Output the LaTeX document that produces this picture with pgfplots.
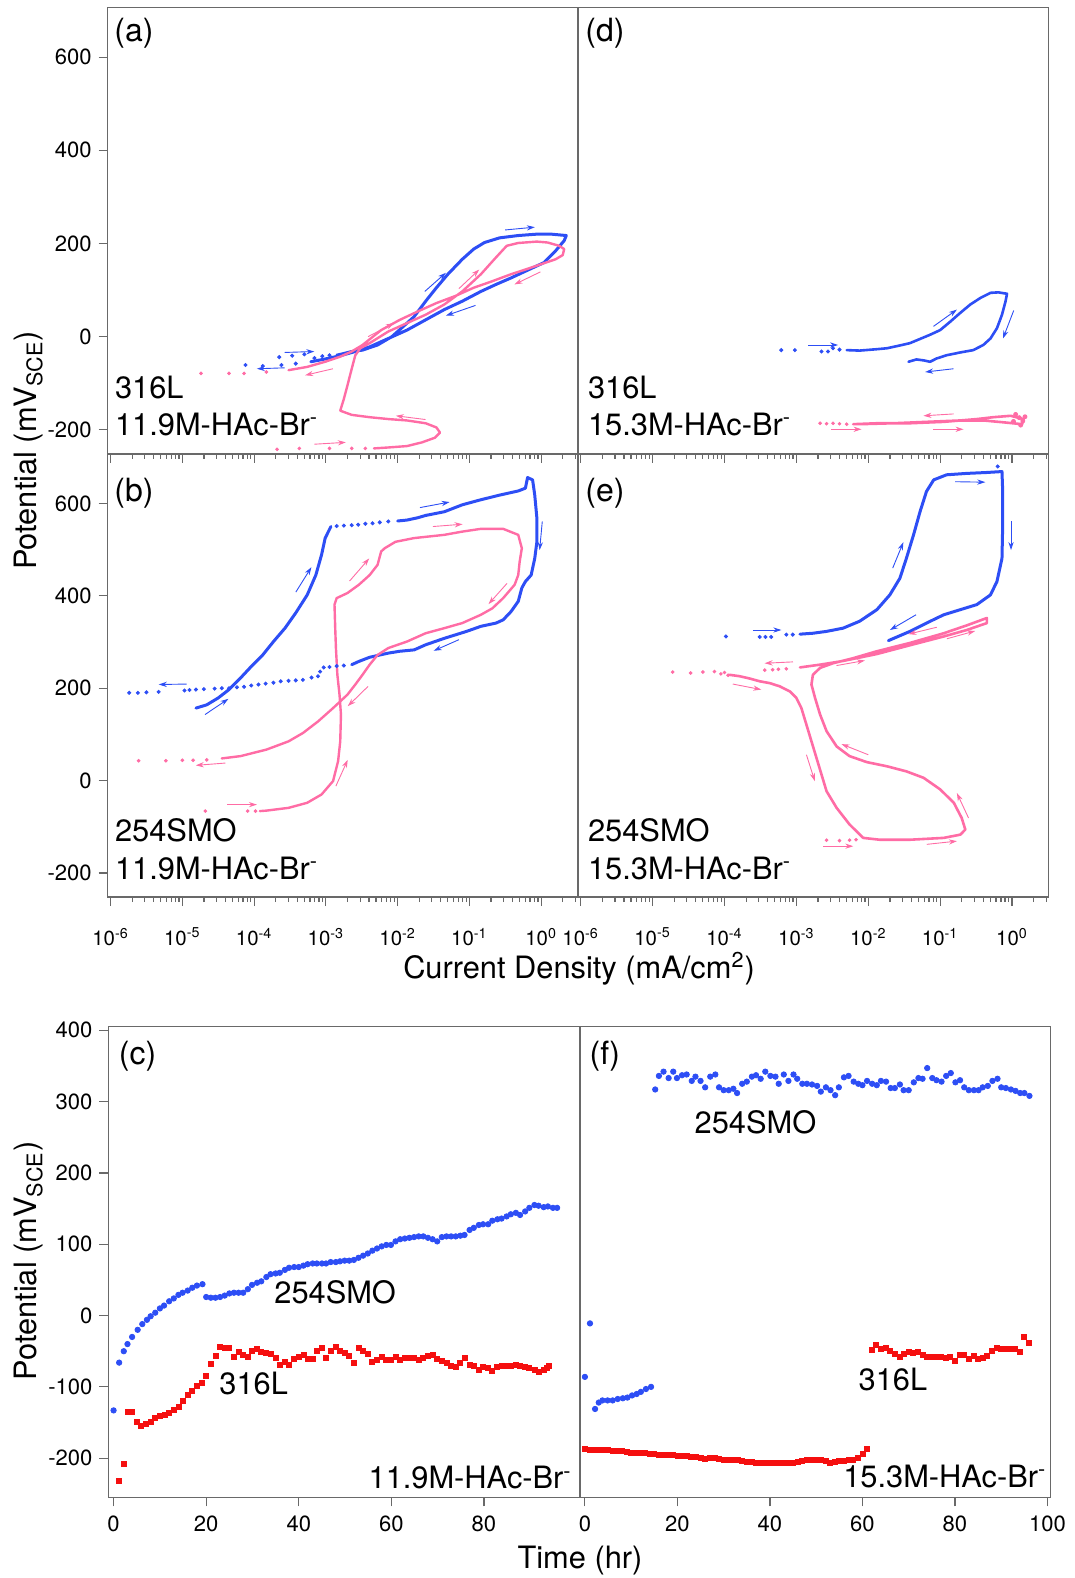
\documentclass[border=0pt]{standalone}
\usepackage{fontspec}
\setmainfont{TeX Gyre Heros}
\usepackage{pgfplots}
\pgfplotsset{compat=1.18}
\usetikzlibrary{arrows.meta}

\definecolor{scanblue}{RGB}{45,78,245}
\definecolor{scanpink}{RGB}{255,108,165}
\definecolor{ocpred}{RGB}{245,15,15}
\definecolor{framegray}{RGB}{105,105,105}

\tikzset{flow/.style={-{Stealth[length=4pt,width=2.6pt]}, line width=0.45pt}}

\pgfplotsset{
  panel/.style={
    scale only axis, anchor=north west,
    axis line style={draw=framegray, line width=0.7pt},
    every tick/.style={draw=framegray, line width=0.6pt},
    tick align=outside,
    major tick length=4.5pt, minor tick length=2.5pt,
    xtick pos=left, ytick pos=left,
    tick label style={font=\fontsize{11}{13}\selectfont, text=black},
  },
  scanax/.style={
    panel,
    xmin=-6.04, xmax=0.51, ymin=-252, ymax=707,
    xtick={-6,-5,-4,-3,-2,-1,0},
    xticklabels={10\textsuperscript{-6},10\textsuperscript{-5},10\textsuperscript{-4},10\textsuperscript{-3},10\textsuperscript{-2},10\textsuperscript{-1},10\textsuperscript{0}},
    minor xtick={-5.699,-5.523,-5.398,-5.301,-5.222,-5.155,-5.097,-5.046,
      -4.699,-4.523,-4.398,-4.301,-4.222,-4.155,-4.097,-4.046,
      -3.699,-3.523,-3.398,-3.301,-3.222,-3.155,-3.097,-3.046,
      -2.699,-2.523,-2.398,-2.301,-2.222,-2.155,-2.097,-2.046,
      -1.699,-1.523,-1.398,-1.301,-1.222,-1.155,-1.097,-1.046,
      -0.699,-0.523,-0.398,-0.301,-0.222,-0.155,-0.097,-0.046,
      0.301,0.477},
    xticklabel style={yshift=-7.5pt, font=\fontsize{10.2}{12}\selectfont},
    ytick={-200,0,200,400,600},
    yticklabels={-200,0,200,400,600},
  },
  timeax/.style={
    panel,
    xmin=-1.1, xmax=100.7, ymin=-255, ymax=405,
    ytick={-200,-100,0,100,200,300,400},
    yticklabels={-200,-100,0,100,200,300,400},
    xticklabel style={yshift=-1pt},
  },
  curve/.style={line width=1.5pt, line join=round, line cap=round},
  dots/.style={only marks, mark=*, mark size=0.8pt},
}

\newcommand{\panelfont}{\fontsize{16}{19}\selectfont}
\newcommand{\notefont}{\fontsize{15.4}{18}\selectfont}

\begin{document}
\begin{tikzpicture}
\path[use as bounding box] (0pt,0pt) rectangle (537.5pt,-789pt);

% ---------------- (a) 316L, 11.9M-HAc-Br- ----------------
\begin{axis}[scanax, at={(53.85pt,-3.65pt)}, width=235.05pt, height=223.35pt, xticklabels={}]
\addplot[scanblue, curve] coordinates {
(-2.85,-40) (-2.64,-32) (-2.49,-29) (-2.28,-18) (-2.08,0) (-1.92,22) (-1.77,43) (-1.61,76)
(-1.46,105) (-1.30,134) (-1.10,166) (-0.94,188) (-0.79,202) (-0.58,212) (-0.32,217) (-0.06,220)
(0.14,220) (0.35,217) (0.32,206) (0.20,184) (0.04,159) (-0.17,144) (-0.42,126) (-0.63,112)
(-0.84,97) (-1.10,76) (-1.35,58) (-1.61,36) (-1.87,14) (-2.13,-4) (-2.39,-22) (-2.59,-32)
(-2.80,-41) (-3.01,-48) (-3.21,-54)};
\addplot[scanblue, dots] coordinates {
(-3.65,-44) (-3.47,-41) (-3.30,-38) (-3.16,-46) (-3.05,-42) (-2.95,-40)
(-3.42,-58) (-3.62,-61) (-3.88,-63) (-4.12,-61)};
\addplot[scanpink, curve, line width=1.2pt] coordinates {
(-2.33,-240) (-2.13,-238) (-1.87,-235) (-1.66,-227) (-1.48,-217) (-1.41,-206) (-1.46,-195)
(-1.61,-186) (-1.87,-180) (-2.13,-177) (-2.39,-173) (-2.64,-168) (-2.80,-159) (-2.75,-134)
(-2.70,-105) (-2.64,-69) (-2.59,-40) (-2.52,-25) (-2.39,-14) (-2.13,11) (-1.87,29) (-1.61,47)
(-1.35,69) (-1.10,97) (-0.84,134) (-0.63,170) (-0.48,195) (-0.32,201) (-0.06,204) (0.09,202)
(0.25,195) (0.32,188) (0.30,175) (0.20,166) (-0.01,155) (-0.22,144) (-0.42,134) (-0.68,119)
(-0.94,105) (-1.20,87) (-1.46,72) (-1.72,54) (-1.97,36) (-2.23,14) (-2.49,-18) (-2.64,-32)
(-2.80,-43) (-3.01,-54) (-3.26,-65) (-3.52,-72)};
\addplot[scanpink, dots, mark size=0.7pt] coordinates {
(-3.68,-242) (-3.37,-240) (-2.95,-240) (-2.64,-240) (-2.45,-240)
(-3.83,-76) (-4.14,-79) (-4.35,-79) (-4.74,-79)};
\draw[flow, scanblue] (axis cs:-0.502,229) -- (axis cs:-0.089,235);
\draw[flow, scanblue] (axis cs:-1.622,97) -- (axis cs:-1.328,137);
\draw[flow, scanblue] (axis cs:-0.915,67) -- (axis cs:-1.328,45);
\draw[flow, scanblue] (axis cs:-3.574,-34) -- (axis cs:-3.161,-32);
\draw[flow, scanblue] (axis cs:-3.574,-67) -- (axis cs:-3.961,-69);
\draw[flow, scanpink] (axis cs:-0.011,139) -- (axis cs:-0.373,112);
\draw[flow, scanpink] (axis cs:-1.147,103) -- (axis cs:-0.863,144);
\draw[flow, scanpink] (axis cs:-2.412,0) -- (axis cs:-2.05,29);
\draw[flow, scanpink] (axis cs:-2.902,-69) -- (axis cs:-3.29,-83);
\draw[flow, scanpink] (axis cs:-1.612,-178) -- (axis cs:-2.025,-170);
\draw[flow, scanpink] (axis cs:-3.161,-231) -- (axis cs:-2.722,-227);
\end{axis}

% ---------------- (b) 254SMO, 11.9M-HAc-Br- ----------------
\begin{axis}[scanax, at={(53.85pt,-227pt)}, width=235.05pt, height=221.5pt]
\addplot[scanblue, curve] coordinates {
(-4.81,157) (-4.66,164) (-4.50,179) (-4.35,197) (-4.19,222) (-4.04,247) (-3.88,272) (-3.73,301)
(-3.57,330) (-3.42,363) (-3.26,402) (-3.14,445) (-3.06,489) (-3.01,525) (-2.93,550)};
\addplot[scanblue, dots] coordinates {
(-2.85,551) (-2.75,552) (-2.64,553) (-2.55,554) (-2.45,556) (-2.35,557) (-2.25,559) (-2.13,561)};
\addplot[scanblue, curve] coordinates {
(-2.0,562) (-1.87,564) (-1.72,569) (-1.61,574) (-1.35,582) (-1.10,597) (-0.84,608) (-0.58,618)
(-0.32,627) (-0.22,633) (-0.19,656) (-0.12,651) (-0.09,618) (-0.06,568) (-0.06,517) (-0.09,481)
(-0.14,445) (-0.22,431) (-0.27,417) (-0.32,388) (-0.42,366) (-0.53,348) (-0.63,341) (-0.84,334)
(-1.04,323) (-1.35,308) (-1.61,294) (-1.77,283) (-1.97,280) (-2.13,276) (-2.39,267) (-2.54,258)
(-2.64,251)};
\addplot[scanblue, dots] coordinates {
(-2.75,249) (-2.85,248) (-2.95,246) (-3.03,245) (-3.08,236) (-3.11,226) (-3.20,223) (-3.32,218)
(-3.42,217) (-3.52,216) (-3.63,215) (-3.73,212) (-3.84,210) (-3.94,208) (-4.04,206) (-4.14,203)
(-4.24,202) (-4.35,200) (-4.45,200) (-4.55,199) (-4.70,198) (-4.81,197) (-4.90,196) (-4.97,195)
(-5.33,192) (-5.50,191) (-5.62,190) (-5.74,190)};
\addplot[scanpink, curve, line width=1.2pt] coordinates {
(-3.92,-66) (-3.83,-65) (-3.52,-59) (-3.26,-48) (-3.06,-30) (-2.90,-1) (-2.83,42) (-2.80,85)
(-2.79,143) (-2.81,186) (-2.84,229) (-2.86,287) (-2.87,330) (-2.88,381) (-2.85,395) (-2.70,406)
(-2.54,424) (-2.39,445) (-2.28,467) (-2.23,496) (-2.18,503) (-2.03,517) (-1.77,525) (-1.35,532)
(-1.10,539) (-0.84,545) (-0.53,545) (-0.32,532) (-0.27,503) (-0.30,474) (-0.32,445) (-0.37,424)
(-0.53,395) (-0.68,373) (-0.84,359) (-1.10,341) (-1.35,330) (-1.61,319) (-1.87,301) (-2.13,287)
(-2.28,272) (-2.39,251) (-2.49,229) (-2.59,208) (-2.70,186) (-2.90,157) (-3.11,128) (-3.32,103)
(-3.52,85) (-3.83,67) (-4.19,53) (-4.45,48)};
\addplot[scanpink, dots, mark size=0.7pt] coordinates {
(-4.68,-66) (-4.09,-66) (-3.98,-66)
(-4.66,45) (-4.85,44) (-5.00,44) (-5.23,43) (-5.61,43)};
\draw[flow, scanblue] (axis cs:-1.689,591) -- (axis cs:-1.276,603);
\draw[flow, scanblue] (axis cs:0.015,561) -- (axis cs:-0.022,499);
\draw[flow, scanblue] (axis cs:-1.147,305) -- (axis cs:-1.498,281);
\draw[flow, scanblue] (axis cs:-4.942,209) -- (axis cs:-5.329,208);
\draw[flow, scanblue] (axis cs:-4.684,143) -- (axis cs:-4.358,177);
\draw[flow, scanblue] (axis cs:-3.419,408) -- (axis cs:-3.202,462);
\draw[flow, scanpink] (axis cs:-1.509,550) -- (axis cs:-1.095,555);
\draw[flow, scanpink] (axis cs:-2.67,432) -- (axis cs:-2.396,481);
\draw[flow, scanpink] (axis cs:-0.476,427) -- (axis cs:-0.734,382);
\draw[flow, scanpink] (axis cs:-2.412,204) -- (axis cs:-2.696,161);
\draw[flow, scanpink] (axis cs:-4.4,38) -- (axis cs:-4.813,33);
\draw[flow, scanpink] (axis cs:-4.374,-52) -- (axis cs:-3.961,-52);
\draw[flow, scanpink] (axis cs:-2.861,-12) -- (axis cs:-2.696,45);
\end{axis}

% ---------------- (d) 316L, 15.3M-HAc-Br- ----------------
\begin{axis}[scanax, at={(288.9pt,-3.65pt)}, width=235.45pt, height=223.35pt, xticklabels={}, ytick=\empty]
\addplot[scanblue, dots] coordinates {
(-3.21,-29) (-3.02,-29) (-2.65,-32) (-2.56,-32) (-2.49,-25) (-2.40,-28)};
\addplot[scanblue, curve, line width=1.3pt] coordinates {
(-2.30,-29) (-2.12,-30) (-1.88,-27) (-1.74,-25) (-1.56,-19) (-1.42,-14) (-1.28,-5) (-1.14,4)
(-1.00,14) (-0.86,32) (-0.72,51) (-0.58,69) (-0.44,83) (-0.30,94) (-0.19,95) (-0.07,92)
(-0.09,76) (-0.14,47) (-0.21,18) (-0.30,-4) (-0.40,-18) (-0.54,-29) (-0.72,-34) (-0.91,-40)
(-1.05,-47) (-1.14,-54) (-1.23,-51) (-1.33,-49) (-1.44,-54)};
\addplot[scanpink, dots, mark size=0.7pt] coordinates {
(-2.67,-186) (-2.58,-187) (-2.49,-186) (-2.40,-187) (-2.30,-188)};
\addplot[scanpink, curve, line width=1.3pt] coordinates {
(-2.21,-188) (-1.88,-186) (-1.42,-186) (-0.95,-183) (-0.49,-177) (-0.26,-173) (-0.02,-170)
(0.16,-177) (0.14,-188) (-0.12,-184) (-0.40,-180) (-0.72,-180) (-1.19,-183) (-1.65,-186)
(-2.12,-188)};
\addplot[scanpink, dots, mark size=1pt] coordinates {
(0.05,-167) (0.10,-174) (0.18,-172) (0.12,-190) (0.02,-182) (0.15,-181)};
\draw[flow, scanblue] (axis cs:-2.837,-18) -- (axis cs:-2.419,-18);
\draw[flow, scanblue] (axis cs:-1.093,22) -- (axis cs:-0.767,58);
\draw[flow, scanblue] (axis cs:0.023,56) -- (axis cs:-0.126,-4);
\draw[flow, scanblue] (axis cs:-0.814,-69) -- (axis cs:-1.209,-76);
\draw[flow, scanpink] (axis cs:-0.814,-166) -- (axis cs:-1.233,-170);
\draw[flow, scanpink] (axis cs:-2.512,-199) -- (axis cs:-2.093,-199);
\draw[flow, scanpink] (axis cs:-1.093,-199) -- (axis cs:-0.674,-199);
\end{axis}

% ---------------- (e) 254SMO, 15.3M-HAc-Br- ----------------
\begin{axis}[scanax, at={(288.9pt,-227pt)}, width=235.45pt, height=221.5pt, ytick=\empty]
\addplot[scanblue, dots] coordinates {
(-3.98,312) (-3.51,311) (-3.43,311) (-3.35,311) (-3.14,316) (-3.05,316) (-0.20,680)};
\addplot[scanblue, curve] coordinates {
(-2.95,317) (-2.77,319) (-2.58,323) (-2.35,330) (-2.12,345) (-1.88,370) (-1.70,402) (-1.56,438)
(-1.47,481) (-1.37,532) (-1.28,582) (-1.19,626) (-1.09,651) (-0.91,662) (-0.63,665) (-0.35,667)
(-0.14,669) (-0.13,626) (-0.13,554) (-0.14,481) (-0.21,431) (-0.30,402) (-0.49,381) (-0.72,370)
(-0.95,359) (-1.19,341) (-1.42,323) (-1.72,303)};
\addplot[scanpink, dots, mark size=0.7pt] coordinates {
(-4.72,235) (-4.47,233) (-4.30,235) (-4.14,236) (-4.05,231) (-4.00,234) (-3.95,228)
(-3.14,242) (-3.33,240) (-3.44,239) (-3.25,241)
(-2.58,-129) (-2.40,-130) (-2.26,-129) (-2.17,-128)};
\addplot[scanpink, curve, line width=1.3pt] coordinates {
(-3.93,229) (-3.79,226) (-3.65,221) (-3.51,215) (-3.37,211) (-3.23,204) (-3.09,193) (-3.00,179)
(-2.93,157) (-2.86,121) (-2.79,85) (-2.72,49) (-2.65,13) (-2.58,-23) (-2.44,-59) (-2.26,-95)
(-2.07,-124) (-1.84,-128) (-1.42,-128) (-0.95,-124) (-0.72,-117) (-0.65,-106) (-0.70,-81)
(-0.81,-48) (-1.00,-19) (-1.23,6) (-1.47,20) (-1.74,31) (-2.02,40) (-2.26,53) (-2.44,74)
(-2.58,107) (-2.67,143) (-2.74,179) (-2.79,208) (-2.77,229) (-2.67,244) (-2.49,254) (-2.21,265)
(-1.88,280) (-1.42,298) (-0.95,319) (-0.63,336) (-0.35,352) (-0.35,341) (-0.63,326) (-0.95,312)
(-1.42,293) (-1.88,274) (-2.35,259) (-2.67,251) (-2.95,245)};
\draw[flow, scanblue] (axis cs:-3.605,326) -- (axis cs:-3.209,326);
\draw[flow, scanblue] (axis cs:-0.791,647) -- (axis cs:-0.372,646);
\draw[flow, scanblue] (axis cs:-0.014,561) -- (axis cs:-0.014,499);
\draw[flow, scanblue] (axis cs:-1.335,359) -- (axis cs:-1.698,326);
\draw[flow, scanblue] (axis cs:-1.66,460) -- (axis cs:-1.512,516);
\draw[flow, scanpink] (axis cs:-3.884,209) -- (axis cs:-3.488,197);
\draw[flow, scanpink] (axis cs:-2.86,56) -- (axis cs:-2.744,-1);
\draw[flow, scanpink] (axis cs:-2.628,-142) -- (axis cs:-2.209,-142);
\draw[flow, scanpink] (axis cs:-1.186,-138) -- (axis cs:-0.767,-131);
\draw[flow, scanpink] (axis cs:-0.605,-81) -- (axis cs:-0.767,-27);
\draw[flow, scanpink] (axis cs:-2.0,56) -- (axis cs:-2.372,79);
\draw[flow, scanpink] (axis cs:-2.442,249) -- (axis cs:-2.047,260);
\draw[flow, scanpink] (axis cs:-0.907,307) -- (axis cs:-0.512,324);
\draw[flow, scanpink] (axis cs:-1.047,332) -- (axis cs:-1.442,317);
\draw[flow, scanpink] (axis cs:-3.047,257) -- (axis cs:-3.442,254);
\end{axis}

% ---------------- (c) open-circuit potential, 11.9M-HAc-Br- ----------------
\begin{axis}[timeax, at={(54.25pt,-513.35pt)}, width=235.65pt, height=235.35pt,
  xtick={0,20,40,60,80}, xticklabels={0,20,40,60,80}]
\addplot[scanblue, only marks, mark=*, mark size=1.35pt] coordinates {
(0,-133) (1.2,-66) (2.2,-50) (3.0,-40) (4.0,-30) (5.2,-20) (6.2,-12) (7.2,-6) (8.0,-1) (9.0,4)
(10.0,10) (10.9,14) (12.0,20) (13.0,24) (14.0,29) (14.9,32) (16.0,35) (17.0,39) (18.0,42) (19.2,44)
(20.0,26) (21.0,25) (22.0,25) (23.0,26) (24.0,28) (25.0,31) (26.0,32) (27.0,32) (28.0,32) (29.0,37)
(29.9,43) (31.0,46) (31.9,48) (33.0,54) (33.9,58) (35.0,59) (35.9,60) (37.0,64) (37.9,67) (39.0,68)
(40.0,68) (41.0,70) (41.9,72) (43.0,73) (43.9,73) (45.0,73) (45.9,73) (46.9,75) (48.0,75) (48.9,76)
(49.9,77) (50.9,77) (51.9,78) (52.9,81) (53.9,84) (54.9,87) (55.9,91) (56.9,94) (57.9,97) (58.9,99)
(59.9,99) (60.9,104) (61.9,107) (62.9,108) (63.9,109) (64.9,110) (65.9,111) (66.9,111) (67.9,109)
(68.9,107) (69.9,104) (70.9,110) (71.9,111) (72.9,111) (73.9,111) (74.9,112) (75.8,113) (76.9,120)
(77.8,123) (78.9,127) (79.8,128) (80.9,128) (81.8,133) (82.9,135) (83.8,136) (84.9,139) (85.8,142)
(86.9,144) (87.8,141) (88.9,146) (89.8,151) (90.9,155) (91.8,154) (92.9,152) (93.8,153) (94.9,151)
(95.8,151)};
\addplot[ocpred, only marks, mark=square*, mark size=1.25pt] coordinates {
(1.2,-232) (2.2,-208) (3.0,-135) (4.0,-135) (5.0,-149) (6.0,-155) (7.0,-152) (8.0,-149) (9.0,-144)
(10.0,-141) (11.0,-140) (12.0,-137) (13.0,-132) (14.0,-128) (15.0,-119) (16.0,-111) (17.0,-106)
(18.0,-98) (19.0,-94) (20.0,-84) (21.0,-68) (22.0,-56) (23.0,-44) (24.0,-45) (25.0,-46) (26.0,-58)
(27.0,-51) (28.0,-55) (29.0,-58) (29.9,-50) (31.0,-47) (31.9,-51) (33.0,-53) (33.9,-54) (35.0,-59)
(35.9,-69) (37.0,-65) (37.9,-69) (39.0,-61) (40.0,-58) (41.0,-55) (41.9,-61) (43.0,-61) (43.9,-50)
(45.0,-46) (45.9,-59) (46.9,-49) (48.0,-44) (48.9,-49) (49.9,-53) (50.9,-56) (51.9,-67) (52.9,-46)
(53.9,-50) (54.9,-54) (55.9,-65) (56.9,-62) (57.9,-58) (58.9,-62) (59.9,-62) (60.9,-58) (61.9,-62)
(62.9,-60) (63.9,-59) (64.9,-60) (65.9,-62) (66.9,-59) (67.9,-56) (68.9,-55) (69.9,-61) (70.9,-64)
(71.9,-66) (72.9,-70) (73.9,-72) (74.9,-66) (75.8,-60) (76.9,-69) (77.8,-71) (78.9,-76) (79.8,-72)
(80.9,-74) (81.8,-77) (82.9,-72) (83.8,-70) (84.9,-71) (85.8,-70) (86.9,-69) (87.8,-70) (88.9,-72)
(89.8,-73) (90.9,-76) (91.8,-79) (92.9,-76) (93.7,-73) (94.1,-71)};
\end{axis}

% ---------------- (f) open-circuit potential, 15.3M-HAc-Br- ----------------
\begin{axis}[timeax, at={(289.9pt,-513.35pt)}, width=235.45pt, height=235.35pt,
  xtick={0,20,40,60,80,100}, xticklabels={0,20,40,60,80,100}, ytick=\empty]
\addplot[scanblue, only marks, mark=*, mark size=1.35pt] coordinates {
(0,-86) (1.1,-11) (2.2,-131) (3.0,-122) (3.8,-119) (4.9,-119) (6.0,-119) (7.1,-117) (8.2,-116)
(9.2,-115) (10.2,-112) (11.2,-110) (12.1,-107) (13.2,-103) (14.3,-100)
(15.2,317) (16.0,336) (17.0,342) (18.1,333) (19.1,342) (19.9,333) (21.0,337) (22.0,338) (23.1,329)
(23.9,335) (25.0,329) (26.0,320) (27.1,335) (28.2,338) (29.0,320) (30.0,316) (31.1,316) (32.1,318)
(32.9,312) (34.0,325) (35.0,328) (36.1,335) (37.0,337) (38.0,332) (39.0,342) (40.1,336) (41.2,335)
(41.9,325) (43.0,338) (44.0,329) (45.1,338) (45.9,332) (47.0,325) (48.0,325) (49.1,324) (50.2,322)
(51.0,314) (52.1,320) (53.1,316) (54.1,309) (54.9,320) (56.0,334) (57.0,336) (58.1,328) (59.1,325)
(60.0,323) (61.0,329) (62.1,325) (63.1,323) (64.0,329) (65.1,328) (66.1,319) (67.0,319) (68.1,324)
(68.9,316) (70.0,316) (71.1,327) (72.1,333) (73.0,332) (74.0,347) (75.1,333) (76.0,330) (77.1,328)
(78.1,336) (79.1,340) (80.1,327) (81.1,330) (82.0,320) (83.0,316) (84.1,316) (85.1,316) (86.0,320)
(87.1,322) (88.1,329) (89.2,332) (90.0,320) (91.0,319) (92.1,317) (93.1,315) (94.1,312) (95.0,312)
(96.1,308)};
\addplot[ocpred, only marks, mark=square*, mark size=1.25pt] coordinates {
(0,-187) (1,-189) (2,-188) (3,-188) (4,-188) (5,-189) (6,-190) (7,-190) (8,-190) (9,-191)
(10,-192) (11,-192) (12,-193) (13,-193) (14,-194) (15,-194) (16,-195) (17,-195) (18,-195) (19,-196)
(20,-197) (21,-197) (22,-197) (23,-198) (24,-198) (25,-200) (26,-201) (27,-200) (28,-200) (29,-201)
(30,-202) (31,-203) (32,-203) (33,-203) (34,-204) (35,-205) (36,-205) (37,-206) (38,-206) (39,-206)
(40,-206) (41,-206) (42,-206) (43,-206) (44,-206) (45,-206) (46,-205) (47,-204) (48,-203) (49,-203)
(50,-203) (51,-203) (52,-204) (53,-207) (54,-205) (55,-204) (56,-204) (57,-203) (58,-202) (59,-199)
(60,-194) (61,-187)
(62,-48) (63,-41) (64,-47) (65,-46) (66,-50) (67,-54) (68,-58) (69,-54) (70,-51) (71,-53) (72,-51)
(73,-55) (74,-58) (75,-58) (76,-58) (77,-58) (78,-60) (79,-58) (80,-63) (81,-55) (82,-55) (83,-61)
(84,-57) (85,-61) (86,-59) (87,-56) (88,-49) (89,-46) (90,-47) (91,-47) (92,-47) (93,-47) (94,-51)
(95,-30) (96,-39)};
\end{axis}

% ---------------- panel letters and sample labels ----------------
\node[anchor=base west, inner sep=0pt, font=\panelfont] at (57pt,-21pt) {(a)};
\node[anchor=base west, inner sep=0pt, font=\panelfont] at (292.5pt,-21pt) {(d)};
\node[anchor=base west, inner sep=0pt, font=\panelfont] at (57pt,-250.85pt) {(b)};
\node[anchor=base west, inner sep=0pt, font=\panelfont] at (292.5pt,-250.85pt) {(e)};
\node[anchor=base west, inner sep=0pt, font=\panelfont] at (59.25pt,-532.4pt) {(c)};
\node[anchor=base west, inner sep=0pt, font=\panelfont] at (294.65pt,-532.4pt) {(f)};

\node[anchor=base west, inner sep=0pt, font=\notefont] at (57.35pt,-199pt) {316L};
\node[anchor=base west, inner sep=0pt, font=\notefont] at (57.35pt,-217.5pt) {11.9M-HAc-Br\textsuperscript{-}};
\node[anchor=base west, inner sep=0pt, font=\notefont] at (293.85pt,-199pt) {316L};
\node[anchor=base west, inner sep=0pt, font=\notefont] at (293.85pt,-217.5pt) {15.3M-HAc-Br\textsuperscript{-}};
\node[anchor=base west, inner sep=0pt, font=\notefont] at (57.35pt,-420.85pt) {254SMO};
\node[anchor=base west, inner sep=0pt, font=\notefont] at (57.35pt,-439.65pt) {11.9M-HAc-Br\textsuperscript{-}};
\node[anchor=base west, inner sep=0pt, font=\notefont] at (293.85pt,-420.85pt) {254SMO};
\node[anchor=base west, inner sep=0pt, font=\notefont] at (293.85pt,-439.65pt) {15.3M-HAc-Br\textsuperscript{-}};

\node[anchor=base west, inner sep=0pt, font=\notefont] at (137pt,-651.85pt) {254SMO};
\node[anchor=base west, inner sep=0pt, font=\notefont] at (109.5pt,-697.2pt) {316L};
\node[anchor=base east, inner sep=0pt, font=\notefont] at (286pt,-744.45pt) {11.9M-HAc-Br\textsuperscript{-}};
\node[anchor=base west, inner sep=0pt, font=\notefont] at (347.15pt,-566.5pt) {254SMO};
\node[anchor=base west, inner sep=0pt, font=\notefont] at (429.15pt,-695.35pt) {316L};
\node[anchor=base east, inner sep=0pt, font=\notefont] at (523.35pt,-743.5pt) {15.3M-HAc-Br\textsuperscript{-}};

% ---------------- axis titles ----------------
\node[rotate=90, anchor=base, inner sep=0pt, font=\notefont] at (18.1pt,-225.25pt) {Potential (mV\textsubscript{SCE})};
\node[rotate=90, anchor=base, inner sep=0pt, font=\notefont] at (18.1pt,-630.5pt) {Potential (mV\textsubscript{SCE})};
\node[anchor=base, inner sep=0pt, font=\notefont] at (289.5pt,-489pt) {Current Density (mA/cm\textsuperscript{2})};
\node[anchor=base, inner sep=0pt, font=\notefont] at (290pt,-784pt) {Time (hr)};
\end{tikzpicture}
\end{document}
